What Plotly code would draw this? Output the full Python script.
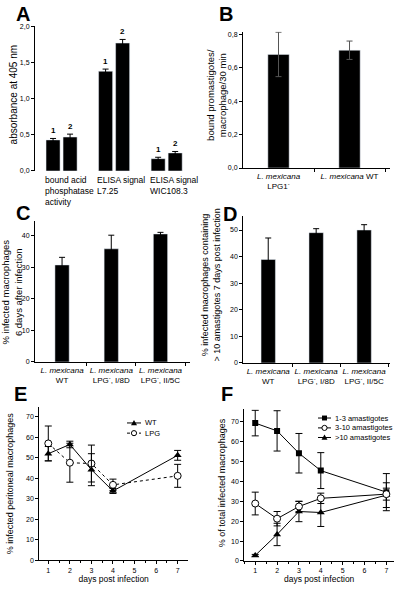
import plotly.graph_objects as go

W, H = 402, 589
FONT = "Liberation Sans, Arial, sans-serif"

# ---------------- data ----------------
# Panel A
a_groups = ["bound acid<br>phosphatase<br>activity", "ELISA signal<br>L7.25", "ELISA signal<br>WIC108.3"]
a_vals_1 = [0.43, 1.38, 0.17]
a_err_1 = [0.02, 0.03, 0.02]
a_vals_2 = [0.47, 1.77, 0.25]
a_err_2 = [0.04, 0.05, 0.02]
a_yticks = [0, 0.5, 1.0, 1.5, 2.0]
a_yticktext = ["0,0", "0,5", "1,0", "1,5", "2,0"]

# Panel B
b_cats = ["<i>L. mexicana</i><br>LPG1<sup>-</sup>", "<i>L. mexicana</i> WT"]
b_vals = [0.68, 0.705]
b_err = [0.133, 0.055]
b_yticks = [0, 0.2, 0.4, 0.6, 0.8]
b_yticktext = ["0,0", "0,2", "0,4", "0,6", "0,8"]

# Panel C / D
cd_cats = ["<i>L. mexicana</i><br>WT",
           "<i>L. mexicana</i><br>LPG<sup>-</sup>, I/8D",
           "<i>L. mexicana</i><br>LPG<sup>-</sup>, II/5C"]
c_vals = [30.7, 35.8, 40.5]
c_err = [2.4, 4.3, 0.5]
c_yticks = [0, 10, 20, 30, 40]
d_vals = [38.9, 49.0, 50.0]
d_err = [8.1, 1.5, 2.0]
d_yticks = [0, 10, 20, 30, 40, 50]

# Panel E
e_days = [1, 2, 3, 4, 7]
e_wt = [52.0, 56.5, 44.2, 33.8, 51.2]
e_wt_err = [3.5, 1.6, 7.8, 1.2, 2.4]
e_lpg = [57.0, 47.6, 47.2, 36.8, 41.2]
e_lpg_err = [8.5, 9.5, 9.0, 2.8, 5.6]
e_yticks = [0, 10, 20, 30, 40, 50, 60, 70]

# Panel F
f_days = [1, 2, 3, 4, 7]
f_13 = [69.1, 65.2, 54.0, 45.3, 34.5]
f_13_err = [6.4, 10.1, 9.9, 9.0, 9.3]
f_310 = [28.8, 21.2, 27.3, 31.4, 33.5]
f_310_err = [5.7, 3.6, 2.6, 2.6, 3.0]
f_10 = [2.8, 13.3, 24.8, 24.3, 33.0]
f_10_err = [0.5, 5.6, 5.1, 7.0, 6.2]
f_yticks = [0, 10, 20, 30, 40, 50, 60, 70]
days_ticks = [1, 2, 3, 4, 5, 6, 7]

# ---------------- helpers ----------------
def xd(p0, p1):
    return [p0 / W, p1 / W]

def yd(top, bottom):
    return [1 - bottom / H, 1 - top / H]

def px(x):
    return x / W

def py(y):
    return 1 - y / H

fig = go.Figure()

def err(arr, w=3):
    return dict(type="data", array=arr, visible=True, thickness=1, width=w, color="black")

# ---- A ----
a_x = list(range(len(a_groups)))
A_W, A_OFF1, A_OFF2 = 0.267, -0.295, 0.029
fig.add_trace(go.Bar(x=a_x, y=a_vals_1, width=A_W, offset=A_OFF1, marker_color="black",
                     error_y=err(a_err_1), xaxis="x", yaxis="y", showlegend=False))
fig.add_trace(go.Bar(x=a_x, y=a_vals_2, width=A_W, offset=A_OFF2, marker_color="black",
                     error_y=err(a_err_2), xaxis="x", yaxis="y", showlegend=False))

# ---- B ----
b_x = list(range(len(b_cats)))
fig.add_trace(go.Bar(x=b_x, y=b_vals, width=0.3, marker_color="black",
                     error_y=dict(type="data", array=b_err, thickness=1, width=3, color="#555"),
                     xaxis="x2", yaxis="y2", showlegend=False))

# ---- C ----
cd_x = list(range(len(cd_cats)))
fig.add_trace(go.Bar(x=cd_x, y=c_vals, width=0.29, marker_color="black",
                     error_y=err(c_err), xaxis="x3", yaxis="y3", showlegend=False))
# ---- D ----
fig.add_trace(go.Bar(x=cd_x, y=d_vals, width=0.3, marker_color="black",
                     error_y=err(d_err), xaxis="x4", yaxis="y4", showlegend=False))

# ---- E ----
fig.add_trace(go.Scatter(x=e_days, y=e_lpg, mode="lines+markers",
                         line=dict(color="black", width=1, dash="dot"),
                         marker=dict(symbol="circle", size=7, color="white", line=dict(color="black", width=1)),
                         error_y=err(e_lpg_err, 3.5), xaxis="x5", yaxis="y5", showlegend=False))
fig.add_trace(go.Scatter(x=e_days, y=e_wt, mode="lines+markers",
                         line=dict(color="black", width=1),
                         marker=dict(symbol="triangle-up", size=7, color="black"),
                         error_y=err(e_wt_err, 3.5), xaxis="x5", yaxis="y5", showlegend=False))

# ---- F ----
fig.add_trace(go.Scatter(x=f_days, y=f_13, mode="lines+markers",
                         line=dict(color="black", width=1),
                         marker=dict(symbol="square", size=6, color="black"),
                         error_y=err(f_13_err, 3.5), xaxis="x6", yaxis="y6", showlegend=False))
fig.add_trace(go.Scatter(x=f_days, y=f_10, mode="lines+markers",
                         line=dict(color="black", width=1),
                         marker=dict(symbol="triangle-up", size=7, color="black"),
                         error_y=err(f_10_err, 3.5), xaxis="x6", yaxis="y6", showlegend=False))
fig.add_trace(go.Scatter(x=f_days, y=f_310, mode="lines+markers",
                         line=dict(color="black", width=1),
                         marker=dict(symbol="circle", size=7, color="white", line=dict(color="black", width=1)),
                         error_y=err(f_310_err, 3.5), xaxis="x6", yaxis="y6", showlegend=False))

# ---------------- axes ----------------
tickfont = dict(family=FONT, size=7, color="black")
base_y = dict(showline=True, linecolor="black", linewidth=1, ticks="outside", ticklen=3,
              tickcolor="black", tickwidth=1, showgrid=False, zeroline=False, tickfont=tickfont)
base_x = dict(showline=True, linecolor="black", linewidth=1, showgrid=False, zeroline=False,
              tickfont=dict(family=FONT, size=8, color="black"))

layout_axes = dict(
    xaxis=dict(base_x, domain=xd(35, 195), range=[-0.505, 2.54], showline=False,
               showticklabels=False, ticks="", anchor="y"),
    yaxis=dict(base_y, domain=yd(22.7, 169), range=[0, 2.0], tickvals=a_yticks,
               ticktext=a_yticktext, anchor="x"),
    xaxis2=dict(base_x, domain=xd(243, 390), range=[-0.5, 1.57], tickvals=b_x, ticktext=b_cats,
                ticks="", minor=dict(tickvals=[0.5, 1.5], ticks="outside", ticklen=3, tickcolor="black"),
                anchor="y2"),
    yaxis2=dict(base_y, domain=yd(28.2, 166), range=[0, 0.815], tickvals=b_yticks,
                ticktext=b_yticktext, anchor="x2"),
    xaxis3=dict(base_x, domain=xd(35, 190), range=[-0.55, 2.6], tickvals=cd_x, ticktext=cd_cats,
                ticks="", minor=dict(tickvals=[0.5, 1.5, 2.5], ticks="outside", ticklen=3, tickcolor="black"),
                anchor="y3"),
    yaxis3=dict(base_y, domain=yd(219.9, 362.3), range=[0, 44.5], tickvals=c_yticks, anchor="x3"),
    xaxis4=dict(base_x, domain=xd(243.3, 390), range=[-0.52, 2.54], tickvals=cd_x, ticktext=cd_cats,
                ticks="", minor=dict(tickvals=[0.5, 1.5, 2.5], ticks="outside", ticklen=3, tickcolor="black"),
                anchor="y4"),
    yaxis4=dict(base_y, domain=yd(215, 363.3), range=[0, 55.1], tickvals=d_yticks, anchor="x4"),
    xaxis5=dict(base_x, domain=xd(39.3, 188), range=[0.583, 7.48], tickvals=days_ticks,
                ticks="outside", ticklen=3, tickcolor="black", tickfont=tickfont,
                minor=dict(dtick=0.5, tick0=0.5, ticks="outside", ticklen=2, tickcolor="black"),
                title=dict(text="days post infection", font=dict(family=FONT, size=8.5, color="black"),
                           standoff=2),
                anchor="y5"),
    yaxis5=dict(base_y, domain=yd(408, 563), range=[0, 74.7], tickvals=e_yticks, anchor="x5"),
    xaxis6=dict(base_x, domain=xd(244.3, 394), range=[0.5, 7.35], tickvals=days_ticks,
                ticks="outside", ticklen=3, tickcolor="black", tickfont=tickfont,
                minor=dict(dtick=0.5, tick0=0.5, ticks="outside", ticklen=2, tickcolor="black"),
                title=dict(text="days post infection", font=dict(family=FONT, size=8.5, color="black"),
                           standoff=2),
                anchor="y6"),
    yaxis6=dict(base_y, domain=yd(410, 563.7), range=[0, 76.1], tickvals=f_yticks, anchor="x6"),
)

annotations = []
shapes = []

# panel letters
for letter, (lx, ly) in zip("ABCDEF", [(23, 10), (226, 10), (23, 212), (230, 213), (20, 395), (227, 395)]):
    annotations.append(dict(text="<b>%s</b>" % letter, x=px(lx), y=py(ly), xref="paper", yref="paper",
                            showarrow=False, font=dict(family=FONT, size=20, color="black"),
                            xanchor="center", yanchor="middle"))

# A: bar numbers and category labels
for i in a_x:
    for off, vals, errs, lab in [(A_OFF1, a_vals_1, a_err_1, "1"), (A_OFF2, a_vals_2, a_err_2, "2")]:
        annotations.append(dict(text="<b>%s</b>" % lab, x=i + off + A_W / 2, y=vals[i] + errs[i],
                                xref="x", yref="y", showarrow=False, yanchor="bottom", yshift=1,
                                font=dict(family=FONT, size=8, color="black")))
    annotations.append(dict(text=a_groups[i], x=i + A_OFF1 - 0.06, y=0, xref="x", yref="y",
                            showarrow=False, xanchor="left", yanchor="top", align="left", yshift=-2,
                            font=dict(family=FONT, size=8.5, color="black")))

# y-axis titles
ytitles = [
    ("absorbance at 405 nm", 13.5, 92, 10),
    ("bound promastigotes/<br>macrophage/30 min", 217, 92, 9.5),
    ("% infected macrophages<br>6 days after infection", 12, 292, 9.5),
    ("% infected macrophages containing<br>> 10 amastigotes 7 days post infection", 211, 285, 9),
    ("% infected peritoneal macrophages", 10, 485, 9),
    ("% of total infected macrophages", 222, 485, 9),
]
for t, x, y, s in ytitles:
    annotations.append(dict(text=t, x=px(x), y=py(y), xref="paper", yref="paper", showarrow=False,
                            textangle=-90, xanchor="center", yanchor="middle",
                            font=dict(family=FONT, size=s, color="black")))

# legends (E and F)
def legend_row(x0, x1, y, label, symbol, dash="solid"):
    shapes.append(dict(type="line", xref="paper", yref="paper", x0=px(x0), x1=px(x1), y0=py(y), y1=py(y),
                       line=dict(color="black", width=1, dash=dash)))
    cx = (x0 + x1) / 2
    r = 2.6
    if symbol == "circle":
        shapes.append(dict(type="circle", xref="paper", yref="paper", x0=px(cx - r), x1=px(cx + r),
                           y0=py(y + r), y1=py(y - r), fillcolor="white", line=dict(color="black", width=1)))
    elif symbol == "square":
        shapes.append(dict(type="rect", xref="paper", yref="paper", x0=px(cx - 2.5), x1=px(cx + 2.5),
                           y0=py(y + 2.5), y1=py(y - 2.5), fillcolor="black", line=dict(color="black", width=0)))
    else:
        path = "M %f %f L %f %f L %f %f Z" % (px(cx - 3), py(y + 2.3), px(cx + 3), py(y + 2.3), px(cx), py(y - 3))
        shapes.append(dict(type="path", xref="paper", yref="paper", path=path, fillcolor="black",
                           line=dict(color="black", width=0)))
    annotations.append(dict(text=label, x=px(x1 + 1.5), y=py(y), xref="paper", yref="paper", showarrow=False,
                            xanchor="left", yanchor="middle", font=dict(family=FONT, size=7.5, color="black")))

legend_row(127, 141, 424, "WT", "triangle")
legend_row(127, 141, 434.3, "LPG", "circle", dash="dot")
legend_row(318, 331, 419, "1-3 amastigotes", "square")
legend_row(318, 331, 429, "3-10 amastigotes", "circle")
legend_row(318, 331, 438.7, ">10 amastigotes", "triangle")

fig.update_layout(
    width=W, height=H, margin=dict(l=0, r=0, t=0, b=0),
    paper_bgcolor="white", plot_bgcolor="white",
    barmode="overlay", showlegend=False, hovermode=False,
    font=dict(family=FONT, color="black"),
    annotations=annotations, shapes=shapes,
    **layout_axes,
)

fig.write_html("out.html", config={"displayModeBar": False},
               post_script="document.body.style.margin='0px';document.body.style.padding='0px';")
